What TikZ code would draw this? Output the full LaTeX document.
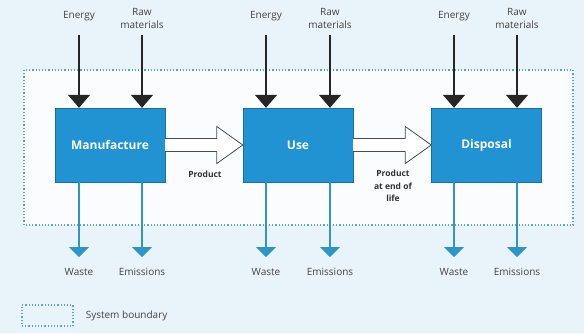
\documentclass[tikz,border=0pt]{standalone}
\usepackage{fontspec}
\setmainfont{Open Sans}
\usetikzlibrary{arrows.meta,calc,positioning}
\definecolor{boxblue}{HTML}{2192D2}
\definecolor{boxedge}{HTML}{1A6EA0}
\definecolor{arrblue}{HTML}{2F95C8}
\definecolor{dotteal}{HTML}{5BA7B8}
\definecolor{bgblue}{HTML}{E8F3FA}
\definecolor{inwhite}{HTML}{FAFCFD}
\definecolor{labgrey}{HTML}{444444}
\begin{document}
\begin{tikzpicture}[x=1pt,y=1pt]
\tikzstyle{every node}+=[inner sep=0pt,text=labgrey,font=\fontsize{10}{13}\selectfont]
\tikzstyle{stage}=[draw=boxedge,fill=boxblue,minimum width=110pt,minimum height=74pt,text=white,font=\bfseries\fontsize{12}{13}\selectfont]
\tikzstyle{boundary}=[draw=dotteal,dotted,line width=1.2pt]
\tikzstyle{inarr}=[draw=black!85,line width=1.6pt,-{Triangle[width=22pt,length=13pt]}]
\tikzstyle{outarr}=[draw=arrblue,line width=1.5pt,-{Triangle[width=20pt,length=10pt]}]
\tikzstyle{hollow}=[draw=black!70,fill=white,line width=0.8pt,line join=miter]
\tikzstyle{flow}=[text=black!80,font=\bfseries\fontsize{8.5}{12.5}\selectfont,align=center]
\fill[bgblue] (0,0) rectangle (584,-333);
\useasboundingbox (0,0) rectangle (584,-333);
\draw[boundary,fill=inwhite] (24,-70) rectangle (573,-225);
\node[stage] (man) at (110,-145) {Manufacture};
\node[stage] (use) at (298,-145) {Use};
\node[stage] (dis) at (486.5,-145) {Disposal};
\coordinate (top) at (0,-35);
\coordinate (bot) at (0,-257);
\node (e1) at (79,-16) {Energy};
\node[align=center] (r1) at (142,-18) {Raw\\materials};
\node (e2) at (266,-16) {Energy};
\node[align=center] (r2) at (330,-18) {Raw\\materials};
\node (e3) at (454,-16) {Energy};
\node[align=center] (r3) at (517,-18) {Raw\\materials};
\draw[inarr] (e1 |- top) -- (e1 |- man.north);
\draw[inarr] (r1 |- top) -- (r1 |- man.north);
\draw[inarr] (e2 |- top) -- (e2 |- use.north);
\draw[inarr] (r2 |- top) -- (r2 |- use.north);
\draw[inarr] (e3 |- top) -- (e3 |- dis.north);
\draw[inarr] (r3 |- top) -- (r3 |- dis.north);
\node (w1) at (79,-272) {Waste};
\node (m1) at (142,-272) {Emissions};
\node (w2) at (266,-272) {Waste};
\node (m2) at (330,-272) {Emissions};
\node (w3) at (454,-272) {Waste};
\node (m3) at (517,-272) {Emissions};
\draw[outarr] (w1 |- man.south) -- (w1 |- bot);
\draw[outarr] (m1 |- man.south) -- (m1 |- bot);
\draw[outarr] (w2 |- use.south) -- (w2 |- bot);
\draw[outarr] (m2 |- use.south) -- (m2 |- bot);
\draw[outarr] (w3 |- dis.south) -- (w3 |- bot);
\draw[outarr] (m3 |- dis.south) -- (m3 |- bot);
\draw[hollow] ($(man.east)+(0,6.5)$) -- ($(use.west)+(-26,6.5)$) -- ++(0,12) -- (use.west) -- ($(use.west)+(-26,-18.5)$) -- ++(0,12) -- ($(man.east)+(0,-6.5)$);
\draw[hollow] ($(use.east)+(0,6.5)$) -- ($(dis.west)+(-26,6.5)$) -- ++(0,12) -- (dis.west) -- ($(dis.west)+(-26,-18.5)$) -- ++(0,12) -- ($(use.east)+(0,-6.5)$);
\node[flow] (p1) at (205,-174) {Product};
\node[flow] (p2) at (393,-186) {Product\\at end of\\life};
\node[boundary,minimum width=51pt,minimum height=21pt] (key) at (47.5,-315.5) {};
\node[right=12pt of key] (keytxt) {System boundary};
\end{tikzpicture}
\end{document}
